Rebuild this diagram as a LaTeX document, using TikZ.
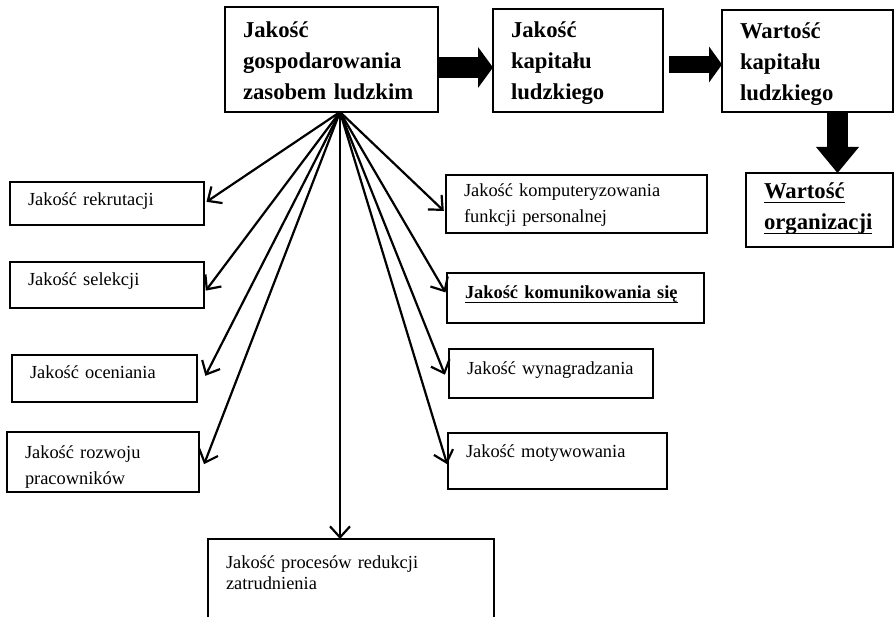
\documentclass[tikz,border=0pt]{standalone}
\usepackage{fontspec}
\setmainfont{Liberation Serif}
\usetikzlibrary{arrows.meta}
\newcommand{\wordul}[1]{\leavevmode\setbox0\hbox{#1}\rlap{\rule[-4.5pt]{\wd0}{1.8pt}}\box0}
\tikzset{box/.style={draw, line width=2.8pt, anchor=north west, outer sep=0pt, inner xsep=18pt, inner ysep=0pt, align=left, font=\fontsize{18.4}{26}\selectfont}}
\tikzset{hd/.style={font=\fontsize{22.7}{31}\selectfont\bfseries}}
\tikzset{fan/.style={line width=2.2pt, -{Straight Barb[length=11pt,width=20pt]}, shorten >=3pt}}
\tikzset{blk/.style n args={3}{line width=#1, -{Triangle[length=#2,width=#3,line width=0pt]}}}

\begin{document}
\begin{tikzpicture}[x=1pt,y=-1pt]
  \useasboundingbox (0,0) rectangle (894,617);
  \clip (0,0) rectangle (894,617);
  % top row
  \node[box, hd, text width=177pt, text height=31pt, text depth=74pt] (zgl) at (225,7) {Jakość\\gospodarowania\\zasobem ludzkim};
  \node[box, hd, text width=134pt, text height=29pt, text depth=74pt] (kap) at (493,9) {Jakość\\kapitału\\ludzkiego};
  \node[box, hd, text width=135pt, text height=29pt, text depth=73pt] (wart) at (722,10) {Wartość\\kapitału\\ludzkiego};
  \node[box, hd, text width=111pt, text height=26pt, text depth=48pt] (org) at (746,173) {\wordul{Wartość}\\\wordul{organizacji}};
  % left column
  \node[box, text width=158pt, text height=24pt, text depth=19pt] (rek) at (10,182) {Jakość rekrutacji};
  \node[box, text width=158pt, text height=24pt, text depth=22pt] (sel) at (10,262) {Jakość selekcji};
  \node[box, text width=149pt, text height=23pt, text depth=24pt] (oce) at (12,355) {Jakość oceniania};
  \node[box, text width=156pt, text height=26pt, text depth=34pt] (roz) at (7,432) {Jakość rozwoju\\pracowników};
  % right column
  \node[box, text width=225pt, text height=22pt, text depth=36pt] (kom) at (446,175) {Jakość komputeryzowania\\funkcji personalnej};
  \node[box, text width=221pt, text height=26pt, text depth=24pt] (kmn) at (447,273) {\bfseries\wordul{Jakość komunikowania się}};
  \node[box, text width=168pt, text height=25pt, text depth=24pt] (wyn) at (449,349) {Jakość wynagradzania};
  \node[box, text width=183pt, text height=24pt, text depth=32pt] (mot) at (448,433) {Jakość motywowania};
  \node[box, text width=250pt, text height=29pt, text depth=100pt] (red) at (208,539) {Jakość procesów redukcji\\[-5pt]zatrudnienia};
  % fan
  \coordinate (hub) at ([xshift=8.5pt]zgl.south);
  \draw[fan] (hub) -- (rek.east);
  \draw[fan] (hub) -- ([yshift=-8pt]sel.east);
  \draw[fan] (hub) -- ([xshift=7pt]oce.east);
  \draw[fan] (hub) -- ([xshift=4pt,yshift=-5pt]roz.east);
  \draw[fan] (hub) -- ([yshift=-9pt]kom.west);
  \draw[fan] (hub) -- ([yshift=3pt]kmn.west);
  \draw[fan] (hub) -- ([xshift=-3pt,yshift=-4pt]wyn.west);
  \draw[fan] (hub) -- ([yshift=-6pt]mot.west);
  \draw[fan, shorten >=0pt] (hub) -- (hub |- red.north);
  % block arrows
  \draw[blk={21pt}{15pt}{41pt}] ([yshift=-8pt]zgl.east) -- ([yshift=-8pt]zgl.east -| kap.west);
  \draw[blk={17pt}{13pt}{36pt}] ([xshift=6pt,yshift=-4pt]kap.east) -- ([yshift=-4pt]kap.east -| wart.west);
  \draw[blk={21pt}{26pt}{43pt}] ([xshift=30pt]wart.south) -- ([xshift=30pt]wart.south |- org.north);
\end{tikzpicture}
\end{document}
